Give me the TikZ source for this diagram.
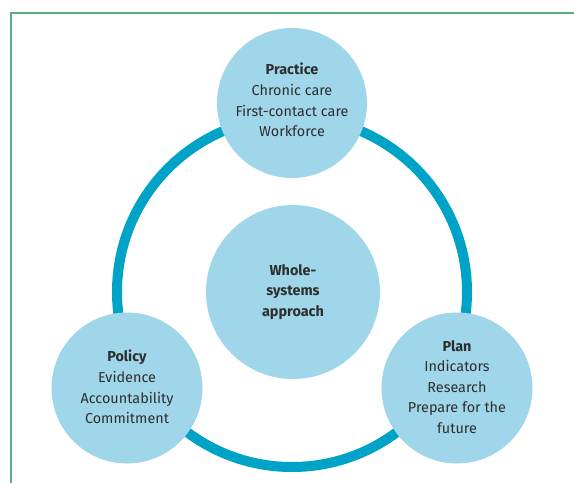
\documentclass[tikz,border=0pt]{standalone}
\usepackage{fontspec}
\setmainfont{Fira Sans}
\definecolor{ringblue}{HTML}{00A3C8}
\definecolor{discblue}{HTML}{A0D6E9}
\definecolor{framegreen}{HTML}{5EAC86}
\definecolor{txt}{HTML}{2E2E2E}
\begin{document}
\begin{tikzpicture}[x=1pt,y=-1pt,
  disc/.style={circle,fill=discblue,draw=none,minimum size=#1,inner sep=0pt},
  disctext/.style={align=center,text=txt,font=\fontsize{14.4}{20.6}\selectfont,inner sep=0pt}]
\useasboundingbox (0,0) rectangle (574,483);
\fill[white] (0,0) rectangle (574,483);
% frame
\draw[framegreen,line width=1.5pt] (11,483) -- (11,13) -- (574,13);
% ring
\coordinate (ringc) at (292,292);
\draw[ringblue,line width=10pt] (ringc) circle[radius=175];
% discs
\node[disc=150pt] (practice) at (292,103) {};
\node[disc=174pt] (whole) at (293,292) {};
\node[disc=151pt] (policy) at (127,388) {};
\node[disc=151pt] (plan) at (457,388) {};
% texts
\node[disctext] (practicet) at (292,100) {\textbf{Practice}\\Chronic care\\First-contact care\\Workforce};
\node[disctext] (wholet) at (293,292) {\textbf{Whole-}\\\textbf{systems}\\\textbf{approach}};
\node[disctext] (policyt) at (127,387) {\textbf{Policy}\\Evidence\\Accountability\\Commitment};
\node[disctext] (plant) at (457,387) {\textbf{Plan}\\Indicators\\Research\\Prepare for the\\future};
\end{tikzpicture}
\end{document}
